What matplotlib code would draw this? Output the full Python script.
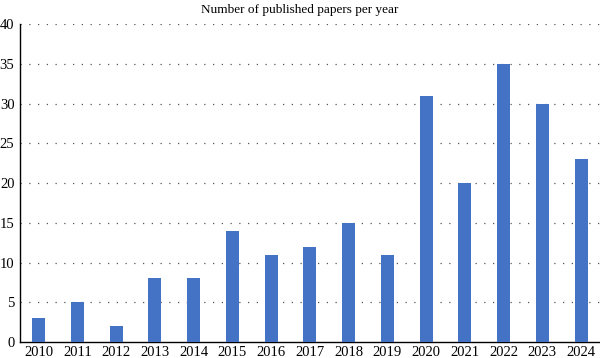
import matplotlib
matplotlib.use("Agg")
import matplotlib.pyplot as plt

years = ["2010", "2011", "2012", "2013", "2014", "2015", "2016", "2017",
         "2018", "2019", "2020", "2021", "2022", "2023", "2024"]
papers = [3, 5, 2, 8, 8, 14, 11, 12, 15, 11, 31, 20, 35, 30, 23]
yticks = [0, 5, 10, 15, 20, 25, 30, 35, 40]

plt.rcParams['font.family'] = ['Liberation Serif', 'DejaVu Serif']

fig = plt.figure(figsize=(6.0, 3.58), dpi=100)
ax = fig.add_axes([20/600, 1-342/358, 580/600, (342-24)/358])

x = list(range(len(years)))
ax.bar(x, papers, width=0.335, color="#4472C4", zorder=3)

ax.set_ylim(0, 40)
ax.set_xlim(-0.48, 14.49)
ax.set_yticks(yticks)
ax.set_xticks(x)
ax.set_xticklabels(years)
ax.tick_params(axis='both', length=0, labelsize=10.5, pad=3)
ax.tick_params(axis='y', pad=4)

for y in yticks[1:]:
    ax.axhline(y, color="#555555", linestyle=(0, (1, 6)), linewidth=0.9, zorder=1)

ax.spines['top'].set_visible(False)
ax.spines['right'].set_visible(False)
ax.spines['left'].set_linewidth(1.0)
ax.spines['bottom'].set_linewidth(1.0)

fig.text(0.5, 1-10/358, "Number of published papers per year", ha='center', va='center', fontsize=9.5)

fig.savefig("out.png", dpi=100)
